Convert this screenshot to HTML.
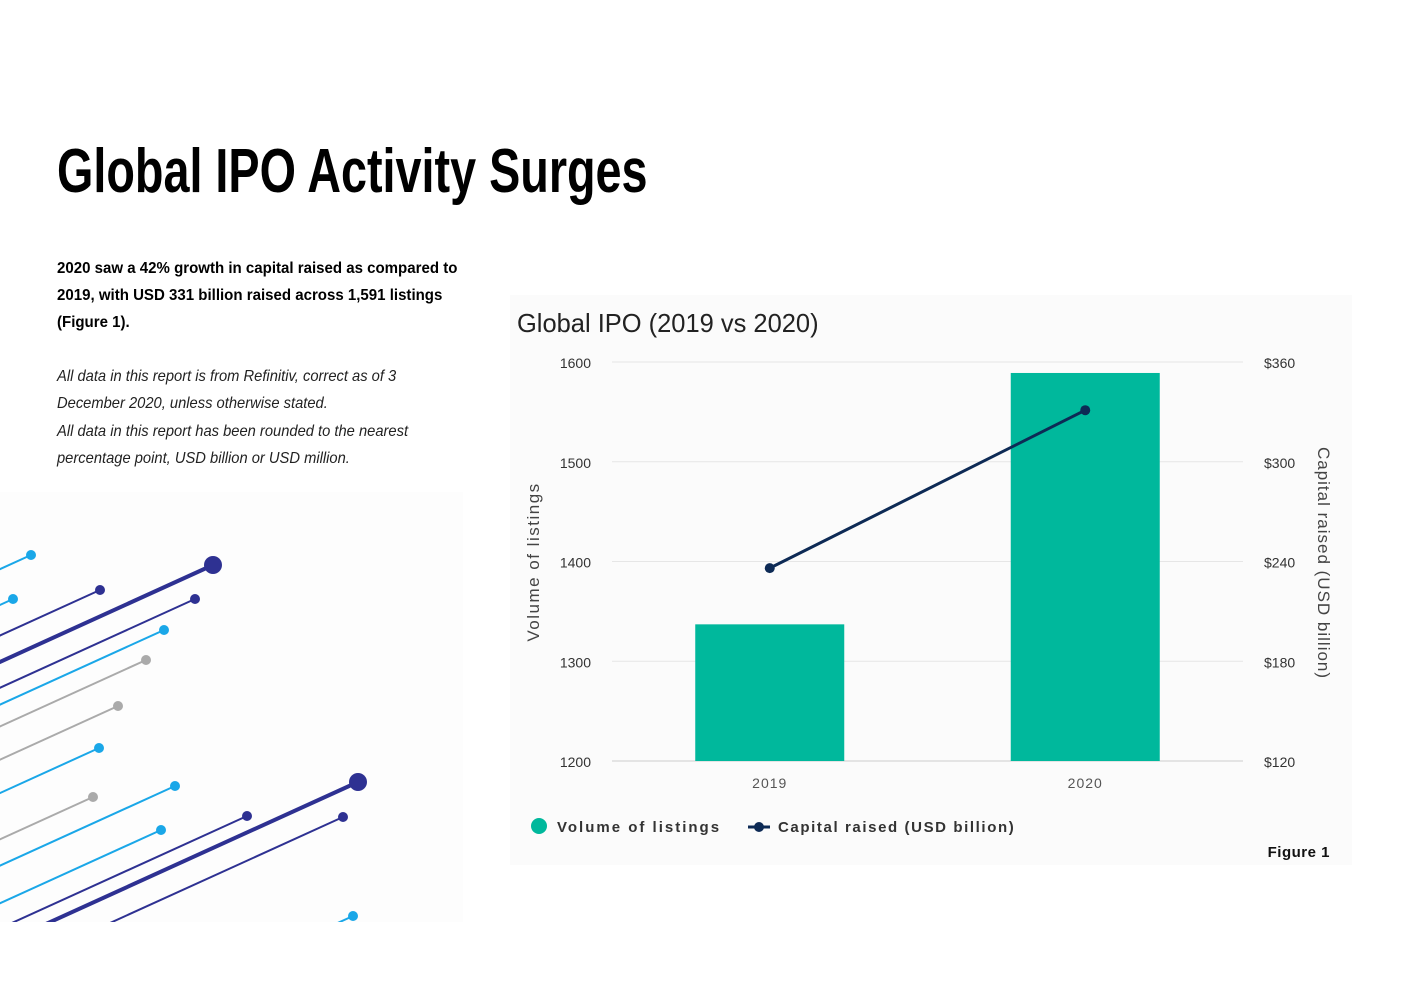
<!DOCTYPE html>
<html style="overflow:hidden;width:1403px;height:992px"><head><meta charset="utf-8"><style>
body{margin:0;width:1403px;height:992px;background:#fff;position:relative;overflow:hidden;font-family:"Liberation Sans",sans-serif}
.t{position:absolute;white-space:nowrap;transform-origin:left top}
</style></head><body>
<div class="t" style="left:57px;top:136px;font-size:62px;font-weight:bold;color:#000;transform:scaleX(0.754)">Global IPO Activity Surges</div>
<div>
<div class="t" style="left:57px;top:260px;font-size:16px;font-weight:bold;transform:scaleX(0.94)">2020 saw a 42% growth in capital raised as compared to</div>
<div class="t" style="left:57px;top:287px;font-size:16px;font-weight:bold;transform:scaleX(0.94)">2019, with USD 331 billion raised across 1,591 listings</div>
<div class="t" style="left:57px;top:314px;font-size:16px;font-weight:bold;transform:scaleX(0.94)">(Figure 1).</div>
</div>
<div>
<div class="t" style="left:57px;top:368px;font-size:16px;font-style:italic;color:#222;transform:scaleX(0.92)">All data in this report is from Refinitiv, correct as of 3</div>
<div class="t" style="left:57px;top:395px;font-size:16px;font-style:italic;color:#222;transform:scaleX(0.92)">December 2020, unless otherwise stated.</div>
<div class="t" style="left:57px;top:423px;font-size:16px;font-style:italic;color:#222;transform:scaleX(0.92)">All data in this report has been rounded to the nearest</div>
<div class="t" style="left:57px;top:450px;font-size:16px;font-style:italic;color:#222;transform:scaleX(0.92)">percentage point, USD billion or USD million.</div>
</div>
<svg id="deco" style="position:absolute;left:0;top:492px;overflow:hidden" width="463" height="430" viewBox="0 492 463 430"><rect x="0" y="492" width="463" height="430" fill="#fdfdfd"/></svg>
<svg id="chart" style="position:absolute;left:0;top:0" width="1403" height="992"></svg>
<script>
const deco=[[31,555,'#1aa7e8',5,2],[13,599,'#1aa7e8',5,2],[100,590,'#2e3192',5,2],[213,565,'#2e3192',9,4],[195,599,'#2e3192',5,2],[164,630,'#1aa7e8',5,2],[146,660,'#aaaaaa',5,2],[118,706,'#aaaaaa',5,2],[99,748,'#1aa7e8',5,2],[93,797,'#aaaaaa',5,2],[175,786,'#1aa7e8',5,2],[161,830,'#1aa7e8',5,2],[247,816,'#2e3192',5,2],[358,782,'#2e3192',9,4],[343,817,'#2e3192',5,2],[353,916,'#1aa7e8',5,2]];
const NS='http://www.w3.org/2000/svg';
function mk(p,tag,a){const e=document.createElementNS(NS,tag);for(const k in a)e.setAttribute(k,a[k]);p.appendChild(e);return e;}
const D=document.getElementById('deco');
const cp=mk(D,'clipPath',{id:'dc'});
mk(cp,'rect',{x:0,y:492,width:463,height:430});
const g=mk(D,'g',{'clip-path':'url(#dc)'});
deco.forEach(d=>{const [x,y,c,r,w]=d;const l=mk(g,'line',{x1:x,y1:y,x2:x-500,y2:y+500*0.455,stroke:c,'stroke-width':w});

const ci=mk(g,'circle',{cx:x,cy:y,r:r,fill:c});});

// chart data
const categories=['2019','2020'];
const listings=[1337,1589];
const capital=[236,331];
const leftTicks=[1200,1300,1400,1500,1600];
const rightTicks=['$120','$180','$240','$300','$360'];
const rightVals=[120,180,240,300,360];
const S=document.getElementById('chart');
const X0=612,X1=1243,Y0=761,Y1=362;
const yL=v=>Y0-(v-1200)/400*(Y0-Y1);
const yR=v=>Y0-(v-120)/240*(Y0-Y1);
const bw=(X1-X0)/categories.length;
const xC=i=>X0+bw*(i+0.5);
let e=mk(S,'rect',{x:510,y:295,width:842,height:570,fill:'#fbfbfb'});

e=mk(S,'text',{x:517,y:332,'font-size':26,fill:'#222','font-family':'Liberation Sans',transform:'translate(517 0) scale(0.98 1) translate(-517 0)'});e.textContent='Global IPO (2019 vs 2020)';

leftTicks.forEach((v,i)=>{const y=yL(v);
let l=mk(S,'line',{x1:X0,x2:X1,y1:y,y2:y,stroke:i==0?'#ccc':'#e6e6e6','stroke-width':1});
let t=mk(S,'text',{x:591,y:y+6,'text-anchor':'end','font-size':14,fill:'#333'});t.textContent=v;
t=mk(S,'text',{x:1264,y:yR(rightVals[i])+6,'font-size':14,fill:'#333'});t.textContent=rightTicks[i];});
categories.forEach((c,i)=>{const x=xC(i);
let b=mk(S,'rect',{x:x-74.5,y:yL(listings[i]),width:149,height:Y0-yL(listings[i]),fill:'#00b89c'});
let t=mk(S,'text',{x:x,y:788,'text-anchor':'middle','font-size':14,fill:'#555','letter-spacing':'1'});t.textContent=c;});
const pts=capital.map((v,i)=>xC(i)+','+yR(v)).join(' ');
e=mk(S,'polyline',{points:pts,fill:'none',stroke:'#0d2a55','stroke-width':3});
capital.forEach((v,i)=>{const c=mk(S,'circle',{cx:xC(i),cy:yR(v),r:5,fill:'#0d2a55'});});
e=mk(S,'text',{x:0,y:0,'font-size':17,fill:'#444','letter-spacing':'1.5','text-anchor':'middle',transform:'translate(539 562) rotate(-90)'});e.textContent='Volume of listings';
e=mk(S,'text',{x:0,y:0,'font-size':17,fill:'#444','letter-spacing':'1','text-anchor':'middle',transform:'translate(1318 563) rotate(90)'});e.textContent='Capital raised (USD billion)';
e=mk(S,'circle',{cx:539,cy:826,r:8,fill:'#00b89c'});
e=mk(S,'text',{x:557,y:832,'font-size':15,'font-weight':'bold',fill:'#333','letter-spacing':'2'});e.textContent='Volume of listings';
e=mk(S,'line',{x1:748,x2:770,y1:827,y2:827,stroke:'#0d2a55','stroke-width':3});
mk(S,'circle',{cx:759,cy:827,r:5,fill:'#0d2a55'});
e=mk(S,'text',{x:778,y:832,'font-size':15,'font-weight':'bold',fill:'#333','letter-spacing':'1.6'});e.textContent='Capital raised (USD billion)';
e=mk(S,'text',{x:1330,y:857,'text-anchor':'end','font-size':15,'font-weight':'bold',fill:'#111','letter-spacing':'0.5'});e.textContent='Figure 1';
</script>
</body></html>
